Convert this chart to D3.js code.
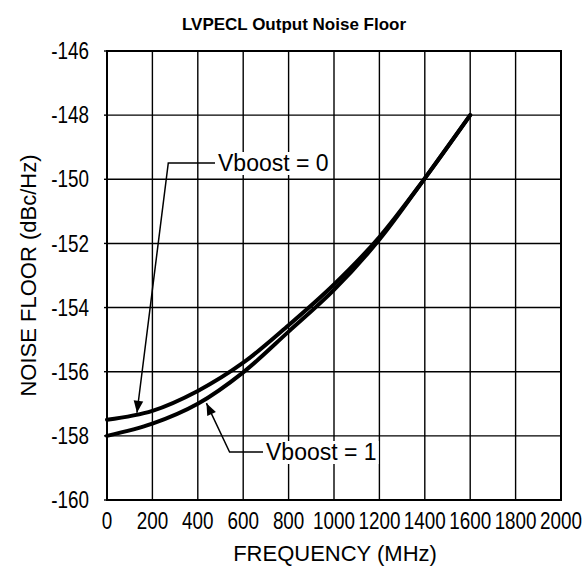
<!DOCTYPE html>
<html>
<head>
<meta charset="utf-8">
<script src="https://cdn.jsdelivr.net/npm/d3@7"></script>
<style>
  html, body { margin: 0; padding: 0; background: #fff; }
  svg { display: block; }
  text { font-family: "Liberation Sans", Arial, Helvetica, sans-serif; fill: #000; }
</style>
</head>
<body>
<svg id="chart" width="587" height="573"></svg>
<script>
// ---- data ----
const title = "LVPECL Output Noise Floor";
const xTitle = "FREQUENCY (MHz)";
const yTitle = "NOISE FLOOR (dBc/Hz)";
const xTicks = [0, 200, 400, 600, 800, 1000, 1200, 1400, 1600, 1800, 2000];
const yTicks = [-146, -148, -150, -152, -154, -156, -158, -160];
const freq = [0, 200, 400, 600, 800, 1000, 1200, 1400, 1600];
const vboost0 = [-157.5, -157.22, -156.60, -155.72, -154.55, -153.28, -151.80, -149.97, -148.0];
const vboost1 = [-158.0, -157.62, -157.00, -156.02, -154.75, -153.45, -151.88, -149.97, -148.0];
const labels = ["Vboost = 0", "Vboost = 1"];

// ---- layout ----
const svg = d3.select("#chart");
const L = 107, R = 561, T = 51, B = 500;
const x = d3.scaleLinear().domain([0, 2000]).range([L, R]);
const y = d3.scaleLinear().domain([-160, -146]).range([B, T]);
const narrow = 0.82;

// grid
const g = svg.append("g");
g.selectAll("line.vx").data(xTicks).enter().append("line")
  .attr("x1", d => x(d)).attr("x2", d => x(d)).attr("y1", T).attr("y2", B)
  .attr("stroke", "#000").attr("stroke-width", 1.4);
g.selectAll("line.hy").data(yTicks).enter().append("line")
  .attr("x1", L).attr("x2", R).attr("y1", d => y(d)).attr("y2", d => y(d))
  .attr("stroke", "#000").attr("stroke-width", 1.4);
g.append("rect").attr("x", L).attr("y", T).attr("width", R - L).attr("height", B - T)
  .attr("fill", "none").attr("stroke", "#000").attr("stroke-width", 2);

// y ticks (small marks) and labels
const fmt = d3.format("d");
svg.selectAll("line.yt").data(yTicks).enter().append("line")
  .attr("x1", L - 3).attr("x2", L).attr("y1", d => y(d)).attr("y2", d => y(d))
  .attr("stroke", "#000").attr("stroke-width", 1.4);
svg.selectAll("text.yl").data(yTicks).enter().append("text")
  .attr("transform", d => `translate(${L - 18},${y(d)}) scale(${narrow},1)`)
  .attr("text-anchor", "end").attr("dominant-baseline", "central")
  .style("font-size", "23px").text(d => fmt(d).replace("\u2212", "-"));
svg.selectAll("text.xl").data(xTicks).enter().append("text")
  .attr("transform", d => `translate(${x(d)},${B + 29}) scale(${narrow},1)`)
  .attr("text-anchor", "middle")
  .style("font-size", "23px").text(d => fmt(d));

// curves
const line = d3.line().x(d => x(d[0])).y(d => y(d[1])).curve(d3.curveCatmullRom.alpha(0.5));
[vboost0, vboost1].forEach(s => {
  svg.append("path").datum(freq.map((f, i) => [f, s[i]]))
    .attr("d", line).attr("fill", "none").attr("stroke", "#000")
    .attr("stroke-width", 4).attr("stroke-linecap", "round");
});

// arrow marker
svg.append("defs").append("marker").attr("id", "arr")
  .attr("viewBox", "0 0 10 10").attr("refX", 10).attr("refY", 5)
  .attr("markerWidth", 16).attr("markerHeight", 12).attr("markerUnits", "userSpaceOnUse")
  .attr("orient", "auto")
  .append("path").attr("d", "M0,1 L10,5 L0,9 Z").attr("fill", "#000");

// annotations (anchored to data positions)
function annot(label, tx, ty, elbowF, tipF, tipV) {
  const grp = svg.append("g");
  const rect = grp.append("rect").attr("fill", "#fff");
  const t = grp.append("text").attr("x", tx).attr("y", ty)
    .attr("dominant-baseline", "central").style("font-size", "23px").text(label);
  const bb = t.node().getBBox();
  rect.attr("x", bb.x - 3).attr("y", bb.y + 2).attr("width", bb.width + 5).attr("height", bb.height - 3);
  svg.append("path")
    .attr("d", `M${bb.x - 3},${ty} L${x(elbowF)},${ty} L${x(tipF)},${y(tipV)}`)
    .attr("fill", "none").attr("stroke", "#000").attr("stroke-width", 1.5)
    .attr("marker-end", "url(#arr)");
}
annot(labels[0], 218, 163, 270, 132, -157.28);
annot(labels[1], 266, 452, 540, 438, -156.98);

// titles
svg.append("text").attr("x", 294).attr("y", 30).attr("text-anchor", "middle")
  .style("font-size", "17px").style("font-weight", "bold").text(title);
svg.append("text").attr("x", 335).attr("y", 561).attr("text-anchor", "middle")
  .style("font-size", "22px").text(xTitle);
svg.append("text").attr("transform", `translate(36,${(T + B) / 2}) rotate(-90)`)
  .attr("text-anchor", "middle").style("font-size", "22px").text(yTitle);
</script>
</body>
</html>
